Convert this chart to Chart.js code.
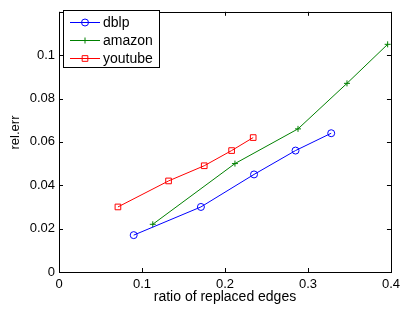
<!DOCTYPE html>
<html>
<head>
<meta charset="utf-8">
<script src="https://cdn.jsdelivr.net/npm/chart.js@4/dist/chart.umd.min.js"></script>
<style>
  html, body { margin: 0; padding: 0; background: #fff; }
  canvas { display: block; }
</style>
</head>
<body>
<canvas id="myChart" width="405" height="309"></canvas>
<script>
// data
var seriesNames = ["dblp", "amazon", "youtube"];
var dblpX = [0.090, 0.171, 0.235, 0.285, 0.328];
var dblpY = [0.017, 0.030, 0.045, 0.056, 0.064];
var amazonX = [0.113, 0.212, 0.288, 0.347, 0.396];
var amazonY = [0.022, 0.050, 0.066, 0.087, 0.105];
var youtubeX = [0.071, 0.132, 0.175, 0.208, 0.234];
var youtubeY = [0.030, 0.042, 0.049, 0.056, 0.062];
var xTickValues = [0, 0.1, 0.2, 0.3, 0.4];
var yTickValues = [0, 0.02, 0.04, 0.06, 0.08, 0.1];
var xTitle = "ratio of replaced edges";
var yTitle = "rel.err";

var lineColors = ["#0000ff", "#008000", "#ff0000"];
var markerStyles = ["circle", "cross", "rect"];
var markerSizes = [3.5, 3, 4];
var FONT = "'Liberation Sans', Arial, Helvetica, sans-serif";

function toPoints(xs, ys) {
  return xs.map(function (x, i) { return { x: x, y: ys[i] }; });
}
var allX = [dblpX, amazonX, youtubeX];
var allY = [dblpY, amazonY, youtubeY];

var datasets = seriesNames.map(function (name, i) {
  return {
    label: name,
    data: toPoints(allX[i], allY[i]),
    borderColor: lineColors[i],
    backgroundColor: "rgba(0,0,0,0)",
    borderWidth: 1,
    pointStyle: markerStyles[i],
    pointRadius: markerSizes[i],
    pointBorderWidth: 1,
    pointBorderColor: lineColors[i],
    pointBackgroundColor: "rgba(0,0,0,0)",
    tension: 0
  };
});

function drawMarker(ctx, style, x, y, r) {
  ctx.beginPath();
  if (style === "circle") {
    ctx.arc(x, y, r, 0, Math.PI * 2);
  } else if (style === "cross") {
    ctx.moveTo(x - r, y); ctx.lineTo(x + r, y);
    ctx.moveTo(x, y - r); ctx.lineTo(x, y + r);
  } else {
    var s = r * Math.SQRT1_2;
    ctx.rect(x - s, y - s, 2 * s, 2 * s);
  }
  ctx.stroke();
}

// matlab style box with inward ticks, legend and ylabel
var framePlugin = {
  id: "frame",
  beforeDatasetsDraw: function (chart) {
    var ctx = chart.ctx, a = chart.chartArea;
    var sx = chart.scales.x, sy = chart.scales.y;
    ctx.save();
    ctx.strokeStyle = "#000";
    ctx.lineWidth = 1;
    ctx.beginPath();
    xTickValues.forEach(function (v) {
      var px = Math.round(sx.getPixelForValue(v)) + 0.5;
      ctx.moveTo(px, a.bottom); ctx.lineTo(px, a.bottom - 4);
      ctx.moveTo(px, a.top); ctx.lineTo(px, a.top + 4);
    });
    yTickValues.forEach(function (v) {
      var py = Math.round(sy.getPixelForValue(v)) + 0.5;
      ctx.moveTo(a.left, py); ctx.lineTo(a.left + 4, py);
      ctx.moveTo(a.right, py); ctx.lineTo(a.right - 4, py);
    });
    ctx.stroke();
    ctx.strokeRect(Math.round(a.left) + 0.5, Math.round(a.top) + 0.5,
      Math.round(a.right - a.left), Math.round(a.bottom - a.top));

    // y label, sits a little above the middle in the original
    ctx.translate(15.5, 132.5);
    ctx.rotate(-Math.PI / 2);
    ctx.fillStyle = "#000";
    ctx.font = "13px " + FONT;
    ctx.textAlign = "center";
    ctx.textBaseline = "middle";
    ctx.fillText(yTitle, 0, 0);
    ctx.restore();
  },
  afterDatasetsDraw: function (chart) {
    var ctx = chart.ctx;
    ctx.save();
    ctx.fillStyle = "#fff";
    ctx.fillRect(63.5, 10.5, 96, 57);
    ctx.strokeStyle = "#000";
    ctx.lineWidth = 1;
    ctx.strokeRect(63.5, 10.5, 96, 57);
    ctx.font = "14px " + FONT;
    ctx.textBaseline = "middle";
    ctx.textAlign = "left";
    chart.data.datasets.forEach(function (ds, i) {
      var y = 22.5 + i * 18;
      ctx.strokeStyle = ds.borderColor;
      ctx.beginPath();
      ctx.moveTo(70, y); ctx.lineTo(100, y);
      ctx.stroke();
      drawMarker(ctx, ds.pointStyle, 85, y, ds.pointRadius);
      ctx.fillStyle = "#000";
      ctx.fillText(ds.label, 103, y + 0.5);
    });
    ctx.restore();
  }
};

new Chart("myChart", {
  type: "line",
  data: { datasets: datasets },
  options: {
    responsive: false,
    animation: false,
    layout: { padding: { top: 5, right: 9, left: 0, bottom: 0 } },
    plugins: { legend: { display: false }, tooltip: { enabled: false } },
    scales: {
      x: {
        type: "linear",
        min: 0, max: 0.4,
        grid: { display: false, drawTicks: false },
        border: { display: false },
        afterFit: function (scale) { scale.height = 37; },
        afterBuildTicks: function (scale) {
          scale.ticks = xTickValues.map(function (v) { return { value: v }; });
        },
        ticks: {
          padding: 5,
          color: "#000",
          font: { family: FONT, size: 13 },
          callback: function (v) { return String(v); }
        },
        title: {
          display: true,
          text: xTitle,
          color: "#000",
          font: { family: FONT, size: 14 },
          padding: { top: 0, bottom: 3 }
        }
      },
      y: {
        type: "linear",
        min: 0, max: 0.12,
        grid: { display: false, drawTicks: false },
        border: { display: false },
        afterFit: function (scale) { scale.width = 59; },
        afterBuildTicks: function (scale) {
          scale.ticks = yTickValues.map(function (v) { return { value: v }; });
        },
        ticks: {
          padding: 4,
          color: "#000",
          font: { family: FONT, size: 13 },
          callback: function (v) { return String(v); }
        }
      }
    }
  },
  plugins: [framePlugin]
});
</script>
</body>
</html>
